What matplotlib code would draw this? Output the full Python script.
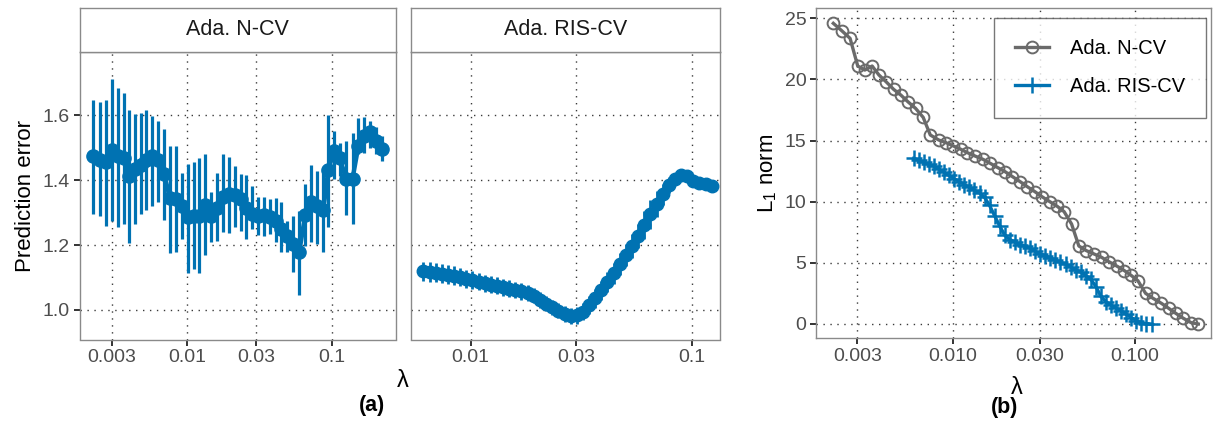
import matplotlib
matplotlib.use("Agg")
import numpy as np
import matplotlib.pyplot as plt

plt.rcParams['font.family'] = ['Liberation Sans', 'DejaVu Sans']
plt.rcParams['mathtext.fontset'] = 'custom'
plt.rcParams['mathtext.rm'] = 'Liberation Sans'

BLUE = "#0072B2"
GREY = "#6a6a6a"
BORDER = "#8a8a8a"
TICKCOL = "#4d4d4d"

# ---- Ada. N-CV : lambda grid (log10), prediction error, error bar ends, L1 norm
ncv_loglam = [-2.655, -2.609, -2.563, -2.521, -2.482, -2.442, -2.405, -2.366, -2.324, -2.285,
              -2.246, -2.204, -2.162, -2.123, -2.077, -2.037, -1.996, -1.956, -1.919, -1.878,
              -1.834, -1.794, -1.753, -1.713, -1.672, -1.630, -1.591, -1.549, -1.510, -1.468,
              -1.429, -1.389, -1.348, -1.308, -1.267, -1.225, -1.183, -1.144, -1.100, -1.058,
              -1.024, -0.984, -0.942, -0.901, -0.855, -0.815, -0.776, -0.734, -0.692, -0.653]
ncv_err = [1.474, 1.463, 1.455, 1.494, 1.474, 1.467, 1.412, 1.433, 1.446, 1.463,
           1.474, 1.463, 1.420, 1.346, 1.341, 1.321, 1.285, 1.290, 1.290, 1.323,
           1.290, 1.315, 1.348, 1.356, 1.354, 1.341, 1.315, 1.295, 1.290, 1.293,
           1.287, 1.275, 1.249, 1.229, 1.203, 1.178, 1.293, 1.331, 1.321, 1.307,
           1.430, 1.489, 1.467, 1.404, 1.404, 1.504, 1.535, 1.548, 1.520, 1.496]
ncv_hi = [1.648, 1.640, 1.647, 1.712, 1.685, 1.668, 1.617, 1.604, 1.606, 1.617,
          1.598, 1.581, 1.557, 1.504, 1.504, 1.422, 1.451, 1.455, 1.469, 1.479,
          1.364, 1.421, 1.479, 1.471, 1.443, 1.420, 1.416, 1.382, 1.348, 1.348,
          1.341, 1.346, 1.331, 1.275, 1.290, 1.305, 1.389, 1.445, 1.428, 1.440,
          1.601, 1.552, 1.515, 1.520, 1.545, 1.591, 1.594, 1.581, 1.565, 1.535]
ncv_lo = [1.295, 1.290, 1.259, 1.275, 1.254, 1.264, 1.205, 1.264, 1.297, 1.307,
          1.321, 1.331, 1.277, 1.176, 1.180, 1.220, 1.114, 1.125, 1.113, 1.170,
          1.208, 1.211, 1.239, 1.236, 1.254, 1.244, 1.218, 1.249, 1.231, 1.229,
          1.234, 1.208, 1.178, 1.178, 1.116, 1.045, 1.198, 1.208, 1.203, 1.178,
          1.254, 1.402, 1.412, 1.293, 1.264, 1.479, 1.484, 1.499, 1.480, 1.458]
ncv_l1 = [24.59, 23.99, 23.36, 21.10, 20.77, 21.10, 20.37, 19.82, 19.19, 18.73,
          18.18, 17.64, 16.90, 15.46, 15.05, 14.83, 14.56, 14.29, 14.01, 13.74,
          13.47, 13.14, 12.79, 12.46, 12.05, 11.64, 11.23, 10.82, 10.41, 10.01,
          9.65, 9.19, 8.18, 6.38, 6.00, 5.73, 5.45, 5.10, 4.74, 4.36,
          4.01, 3.54, 2.51, 2.10, 1.69, 1.28, 0.87, 0.46, 0.11, 0.00]

# ---- Ada. RIS-CV
ris_loglam = [-2.214, -2.186, -2.158, -2.131, -2.103, -2.075, -2.047, -2.020, -1.992, -1.964,
              -1.936, -1.909, -1.881, -1.853, -1.825, -1.798, -1.770, -1.742, -1.714, -1.686,
              -1.659, -1.631, -1.603, -1.575, -1.548, -1.520, -1.492, -1.464, -1.437, -1.409,
              -1.381, -1.353, -1.326, -1.298, -1.270, -1.242, -1.214, -1.187, -1.159, -1.131,
              -1.103, -1.076, -1.048, -1.020, -0.992, -0.965, -0.937, -0.909]
ris_err = [1.119, 1.117, 1.115, 1.112, 1.109, 1.106, 1.101, 1.096, 1.092, 1.087,
           1.082, 1.078, 1.074, 1.070, 1.066, 1.062, 1.057, 1.052, 1.044, 1.031,
           1.019, 1.008, 0.997, 0.988, 0.981, 0.983, 0.995, 1.014, 1.036, 1.060,
           1.085, 1.113, 1.141, 1.169, 1.197, 1.228, 1.262, 1.294, 1.327, 1.356,
           1.384, 1.404, 1.416, 1.414, 1.396, 1.390, 1.387, 1.382]
ris_se = [0.030, 0.030, 0.029, 0.029, 0.029, 0.028, 0.028, 0.028, 0.027, 0.027,
          0.027, 0.026, 0.026, 0.026, 0.025, 0.025, 0.025, 0.024, 0.024, 0.024,
          0.023, 0.023, 0.023, 0.024, 0.025, 0.026, 0.027, 0.028, 0.029, 0.030,
          0.031, 0.032, 0.033, 0.034, 0.036, 0.038, 0.042, 0.045, 0.040, 0.033,
          0.025, 0.018, 0.012, 0.010, 0.008, 0.007, 0.006, 0.006]
ris_l1 = [13.55, 13.38, 13.22, 13.05, 12.89, 12.65, 12.40, 12.15, 11.88, 11.65,
          11.40, 11.18, 10.95, 10.72, 10.35, 9.70, 8.85, 8.00, 7.25, 6.90,
          6.70, 6.50, 6.35, 6.18, 5.95, 5.75, 5.58, 5.40, 5.23, 5.05,
          4.87, 4.66, 4.45, 4.25, 3.96, 3.65, 3.05, 2.25, 1.82, 1.54,
          1.30, 1.10, 0.82, 0.52, 0.28, 0.10, 0.03, 0.00]

ncv_lam = 10 ** np.array(ncv_loglam)
ris_lam = 10 ** np.array(ris_loglam)
ris_err = np.array(ris_err)
ris_se = np.array(ris_se)

W, H = 1214, 424
fig = plt.figure(figsize=(W / 100, H / 100), dpi=100)


def box(x0, y0, x1, y1):
    # pixel box (top-left origin) -> figure fraction rect
    return [x0 / W, 1 - y1 / H, (x1 - x0) / W, (y1 - y0) / H]


def style(ax):
    for s in ax.spines.values():
        s.set_color(BORDER)
        s.set_linewidth(1.0)
    ax.grid(True, which='major', color='#3a3a3a', linestyle=(0, (1, 4)), linewidth=1.0)
    ax.set_axisbelow(True)
    ax.tick_params(which='major', direction='out', length=4, width=1.4, color='#333333',
                   labelcolor=TICKCOL, labelsize=14, pad=3)
    ax.tick_params(which='minor', length=0)


ax1 = fig.add_axes(box(79.5, 51.5, 395.5, 339.5))
ax2 = fig.add_axes(box(410.5, 51.5, 720, 339.5), sharey=ax1)
ax3 = fig.add_axes(box(816, 8.3, 1211, 338.3))

# strips
for (x0, x1), name in [((79.5, 395.5), "Ada. N-CV"), ((410.5, 720), "Ada. RIS-CV")]:
    st = fig.add_axes(box(x0, 8.3, x1, 51.5))
    st.set_xticks([])
    st.set_yticks([])
    for s in st.spines.values():
        s.set_color(BORDER)
        s.set_linewidth(1.0)
    st.text(0.5, 0.5, name, ha='center', va='center', fontsize=15.5, color='#1a1a1a',
            transform=st.transAxes)

# (a) left: N-CV
style(ax1)
ax1.vlines(ncv_lam, ncv_lo, ncv_hi, color=BLUE, linewidth=2.3, zorder=2)
ax1.plot(ncv_lam, ncv_err, color=BLUE, linewidth=3.2, marker='o', markersize=9.5, zorder=3)
ax1.set_xscale('log')
ax1.set_xlim(10 ** -2.749, 10 ** -0.557)
ax1.set_xticks([0.003, 0.01, 0.03, 0.1])
ax1.set_xticklabels(["0.003", "0.01", "0.03", "0.1"])
ax1.set_ylim(0.909, 1.796)
ax1.set_yticks([1.0, 1.2, 1.4, 1.6])
ax1.set_yticklabels(["1.0", "1.2", "1.4", "1.6"])
ax1.set_ylabel("Prediction error", fontsize=16, color='black', labelpad=5)

# (a) right: RIS-CV
style(ax2)
ax2.vlines(ris_lam, ris_err - ris_se, ris_err + ris_se, color=BLUE, linewidth=2.0, zorder=2)
ax2.plot(ris_lam, ris_err, color=BLUE, linewidth=3.2, marker='o', markersize=9, zorder=3)
ax2.set_xscale('log')
ax2.set_xlim(10 ** -2.272, 10 ** -0.872)
ax2.set_xticks([0.01, 0.03, 0.1])
ax2.set_xticklabels(["0.01", "0.03", "0.1"])
ax2.tick_params(axis='y', left=False, labelleft=False)

fig.text(403 / W, 1 - 381 / H, "λ", ha='center', va='center', fontsize=17)
fig.text(372 / W, 1 - 406 / H, "(a)", ha='center', va='center', fontsize=15.5,
         fontweight='bold')

# (b) L1 norm path
style(ax3)
ax3.plot(ncv_lam, ncv_l1, color=GREY, linewidth=2.4, marker='o', markersize=8.5,
         markerfacecolor='none', markeredgecolor=GREY, markeredgewidth=1.4,
         label="Ada. N-CV", zorder=3)
ax3.plot(ris_lam, ris_l1, color=BLUE, linewidth=2.4, marker='+', markersize=11.5,
         markeredgewidth=1.8, label="Ada. RIS-CV", zorder=3)
ax3.set_xscale('log')
ax3.set_xlim(10 ** -2.75, 10 ** -0.583)
ax3.set_xticks([0.003, 0.01, 0.03, 0.1])
ax3.set_xticklabels(["0.003", "0.010", "0.030", "0.100"])
ax3.set_ylim(-1.17, 25.82)
ax3.set_yticks([0, 5, 10, 15, 20, 25])
ax3.set_ylabel(r"L$_1$ norm", fontsize=16, color='black', labelpad=4)
leg = ax3.legend(loc='upper right', bbox_to_anchor=(0.987, 0.970), fontsize=14.5,
                 frameon=True, fancybox=False, handlelength=1.7, borderpad=1.05,
                 labelspacing=0.95, handletextpad=1.0, borderaxespad=0.0)
leg.get_frame().set_edgecolor('#555555')
leg.get_frame().set_linewidth(1.0)

fig.text(1017 / W, 1 - 388 / H, "λ", ha='center', va='center', fontsize=17)
fig.text(1005 / W, 1 - 408 / H, "(b)", ha='center', va='center', fontsize=15.5,
         fontweight='bold')

fig.savefig("out.png", dpi=100)
